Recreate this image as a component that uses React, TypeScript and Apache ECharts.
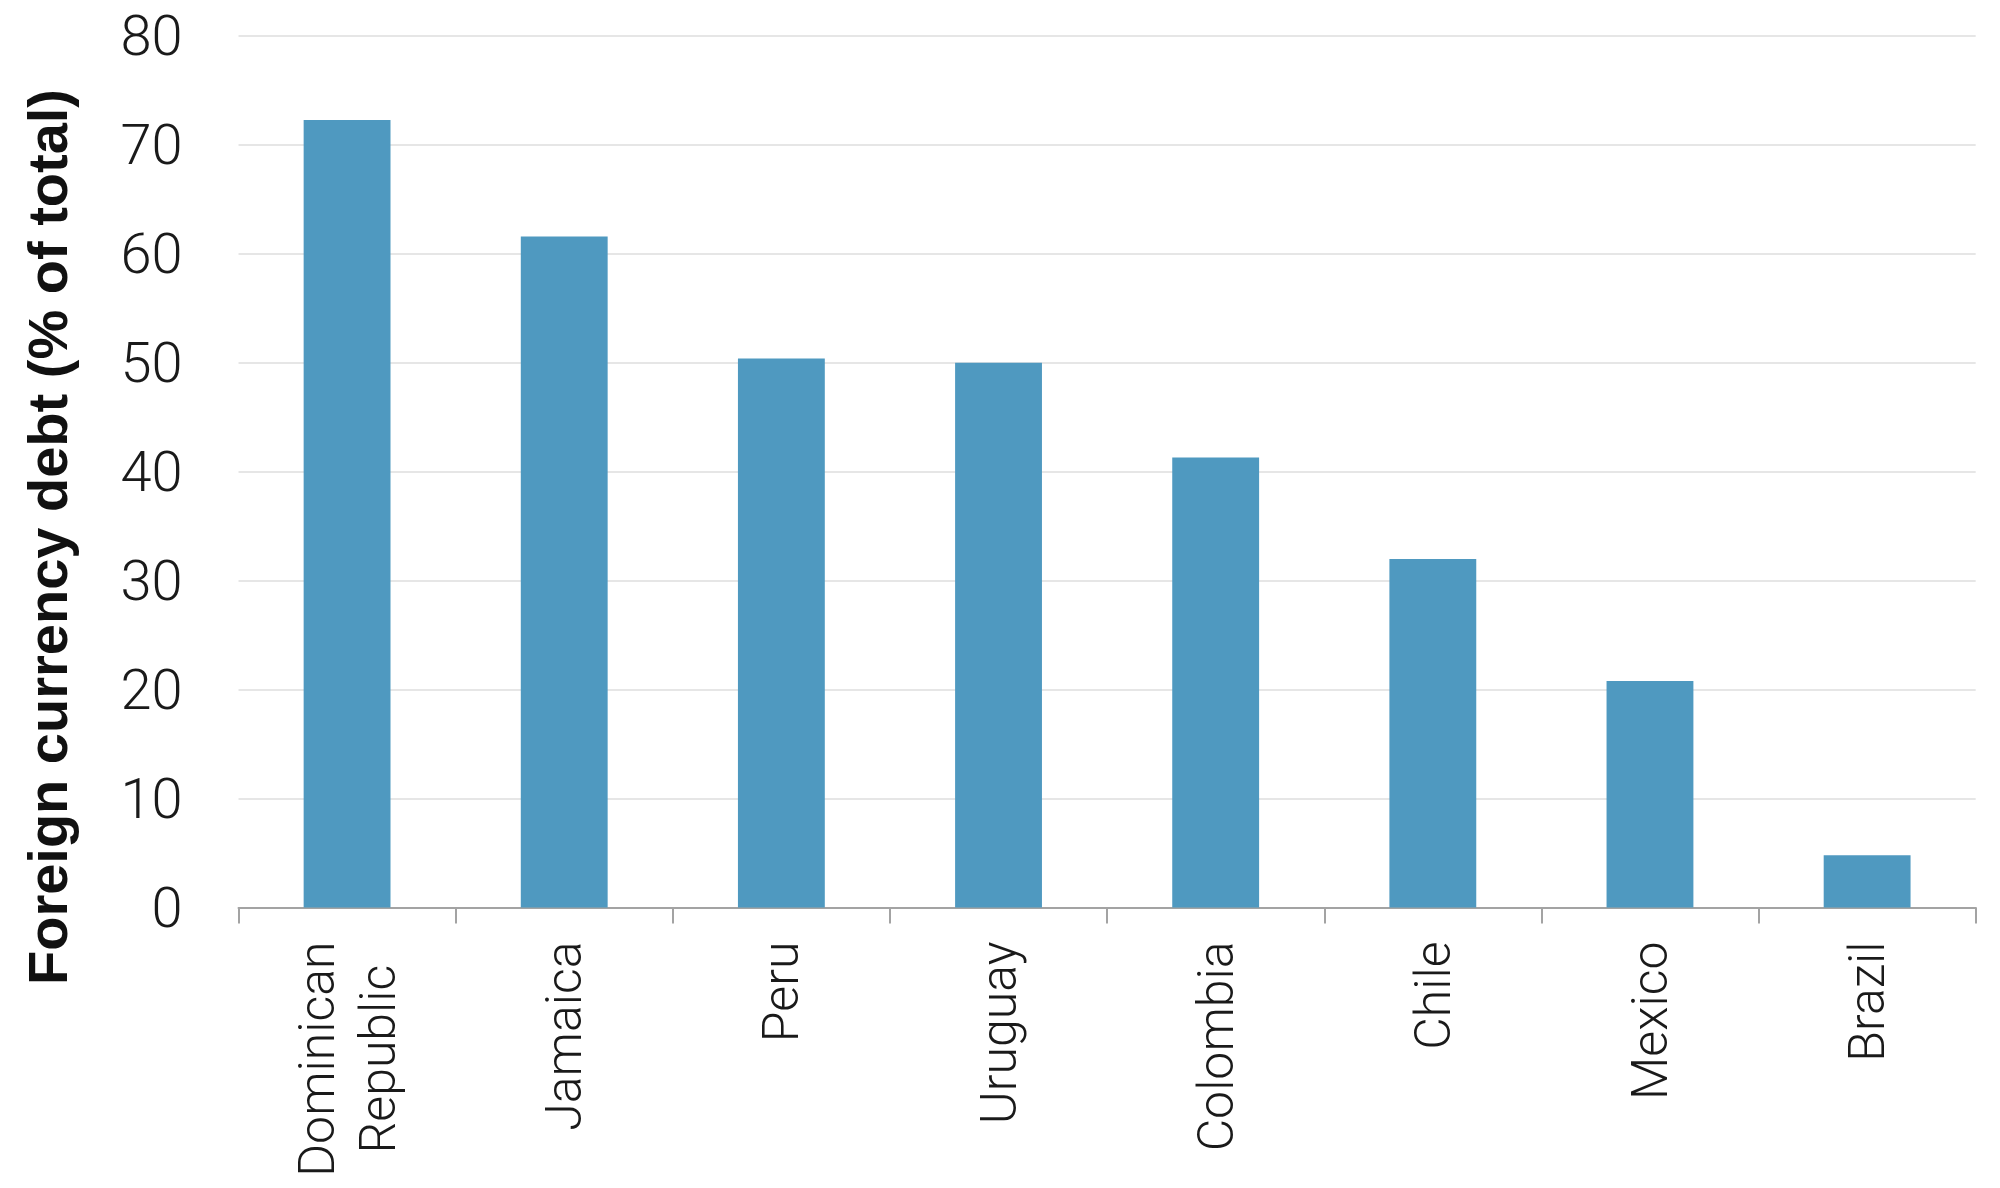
import React, { useEffect, useRef } from "react";
import * as echarts from "echarts";

const categories = ["Dominican\nRepublic", "Jamaica", "Peru", "Uruguay", "Colombia", "Chile", "Mexico", "Brazil"];
const values = [72.3, 61.6, 50.4, 50.0, 41.3, 32.0, 20.8, 4.8];
const yTicks = [0, 10, 20, 30, 40, 50, 60, 70, 80];
const yTitle = "Foreign currency debt (% of total)";

export default function App() {
  const ref = useRef<HTMLDivElement>(null);
  useEffect(() => {
    if (!ref.current) return;
    const chart = echarts.init(ref.current, null, { renderer: "svg" });
    chart.setOption({
      animation: false,
      backgroundColor: "#ffffff",
      grid: { left: 238.5, right: 24.3, top: 36, bottom: 280.5, containLabel: false },
      xAxis: {
        type: "category",
        data: categories,
        axisLine: { show: true, lineStyle: { color: "#a3a3a3", width: 2 } },
        axisTick: { show: true, length: 16, lineStyle: { color: "#a3a3a3", width: 2 } },
        axisLabel: {
          rotate: 90,
          margin: 34,
          interval: 0,
          formatter: (v: string) => v.split("\n").map((s) => `{c|${s}}`).join("\n"),
          rich: {
            c: {
              align: "center",
              fontFamily: "Roboto",
              fontWeight: 300,
              fontSize: 50,
              lineHeight: 61,
              color: "#1a1a1a",
            },
          },
        },
      },
      yAxis: {
        type: "value",
        min: yTicks[0],
        max: yTicks[yTicks.length - 1],
        interval: 10,
        axisLine: { show: false },
        axisTick: { show: false },
        axisLabel: {
          margin: 56,
          fontFamily: "Roboto",
          fontWeight: 300,
          fontSize: 56,
          color: "#1a1a1a",
        },
        splitLine: { show: true, lineStyle: { color: "#dedede", width: 1.5 } },
      },
      graphic: [
        {
          type: "text",
          x: 47,
          y: 537,
          rotation: Math.PI / 2,
          style: {
            text: yTitle,
            fontFamily: "Liberation Sans",
            fontWeight: "bold",
            fontSize: 56,
            fill: "#111111",
            align: "center",
            verticalAlign: "middle",
          },
        },
      ],
      series: [
        {
          type: "bar",
          data: values,
          barWidth: "40%",
          itemStyle: { color: "#4f99c0" },
        },
      ],
    });
    return () => chart.dispose();
  }, []);
  return <div ref={ref} style={{ width: 2000, height: 1188, position: "absolute", left: 0, top: 0 }} />;
}
